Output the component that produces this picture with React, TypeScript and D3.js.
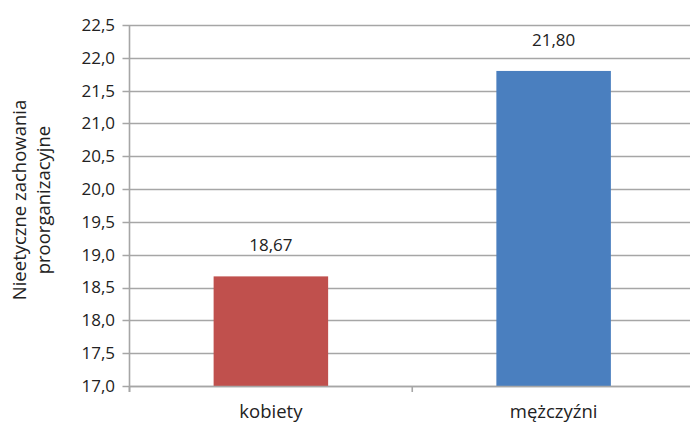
import React from "react";
import * as d3 from "d3";

const categories = ["kobiety", "mężczyźni"];
const values = [18.67, 21.8];
const colors = ["#C0504D", "#4A7FBF"];
const yTicks = [17.0, 17.5, 18.0, 18.5, 19.0, 19.5, 20.0, 20.5, 21.0, 21.5, 22.0, 22.5];
const yTitle = ["Nieetyczne zachowania", "proorganizacyjne"];

export default function App() {
  const W = 690, H = 424;
  const left = 129.5, right = 695, top = 25, bottom = 386;
  const x = d3.scaleBand<string>().domain(categories).range([left, right]).paddingInner(0).paddingOuter(0);
  const y = d3.scaleLinear().domain([17, 22.5]).range([bottom, top]);
  const bw = x.bandwidth();
  const barW = bw * 0.405;
  const fmt = (v: number) => v.toFixed(1).replace(".", ",");
  const fmt2 = (v: number) => v.toFixed(2).replace(".", ",");
  const font = "'Open Sans', 'Noto Sans', sans-serif";
  const grid = "#a6a6a6";
  const fs = 17;
  return (
    <svg width={W} height={H} style={{ position: "absolute", left: 0, top: 0, fontFamily: font }}>
      {yTicks.map((t) => (
        <g key={t}>
          <line x1={left - 7} x2={right} y1={Math.round(y(t)) + 0.5} y2={Math.round(y(t)) + 0.5} stroke={grid} strokeWidth={1.6} />
          <text x={115} y={y(t)} dy="0.35em" textAnchor="end" fontSize={fs} fill="#222">{fmt(t)}</text>
        </g>
      ))}
      {categories.map((c, i) => (
        <rect key={c} x={x(c)! + (bw - barW) / 2} y={y(values[i])} width={barW} height={bottom - y(values[i])} fill={colors[i]} />
      ))}
      <line x1={left} x2={left} y1={top} y2={bottom + 6} stroke={grid} strokeWidth={1.6} />
      <line x1={left} x2={right} y1={bottom + 0.5} y2={bottom + 0.5} stroke={grid} strokeWidth={1.6} />
      {[...categories.map((c) => x(c)!), right].map((px, i) => (
        <line key={i} x1={px} x2={px} y1={bottom} y2={bottom + 6} stroke={grid} strokeWidth={1.6} />
      ))}
      {categories.map((c, i) => (
        <g key={c}>
          <text x={x(c)! + bw / 2} y={y(values[i]) - 31} dy="0.35em" textAnchor="middle" fontSize={fs} fill="#222">{fmt2(values[i])}</text>
          <text x={x(c)! + bw / 2} y={412} dy="0.35em" textAnchor="middle" fontSize={18.5} fill="#222">{c}</text>
        </g>
      ))}
      <text transform="translate(20,200) rotate(-90)" textAnchor="middle" fontSize={18.5} fill="#222">
        {yTitle.map((l, i) => (
          <tspan key={i} x={0} dy={i === 0 ? "0.35em" : 24}>{l}</tspan>
        ))}
      </text>
    </svg>
  );
}
